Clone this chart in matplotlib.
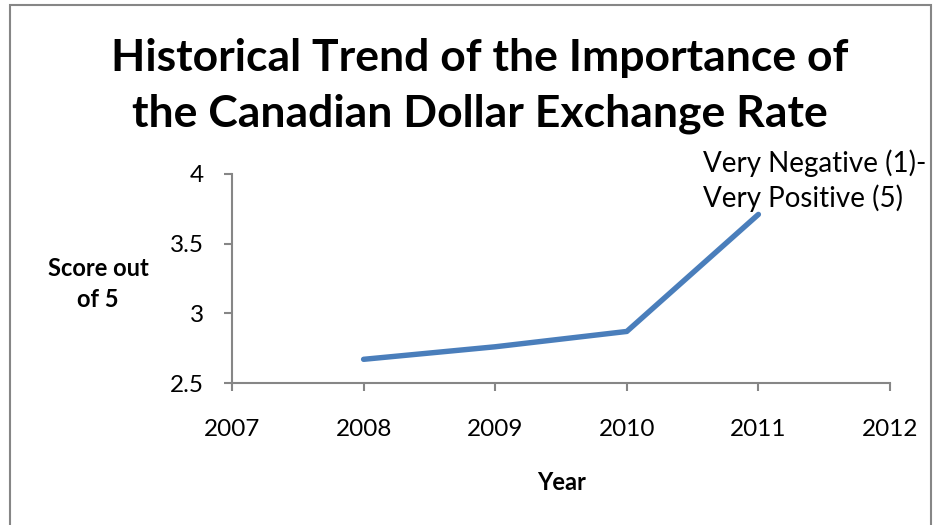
import matplotlib
matplotlib.use("Agg")
import matplotlib.pyplot as plt
from matplotlib.patches import Rectangle

years = [2008, 2009, 2010, 2011]
scores = [2.67, 2.76, 2.87, 3.71]
x_ticks = [2007, 2008, 2009, 2010, 2011, 2012]
y_ticks = [2.5, 3, 3.5, 4]
y_tick_labels = ["2.5", "3", "3.5", "4"]

title = "Historical Trend of the Importance of\nthe Canadian Dollar Exchange Rate"
series_label = "Very Negative (1)-\nVery Positive (5)"

plt.rcParams["font.family"] = ["Lato", "DejaVu Sans"]

W, H = 935, 525
fig = plt.figure(figsize=(W / 100, H / 100), dpi=100)
fig.patch.set_facecolor("white")

# outer chart-area border
fig.add_artist(Rectangle((10 / W, -0.02), 921 / W, 1.02 - 5 / H,
                         transform=fig.transFigure, fill=False,
                         edgecolor="#868686", linewidth=1.5))

ax = fig.add_axes([232 / W, 1 - 383 / H, (890 - 232) / W, (383 - 174) / H])
ax.plot(years, scores, color="#4a7ebb", linewidth=3.9, solid_capstyle="round",
        solid_joinstyle="round")

ax.set_xlim(2007, 2012)
ax.set_ylim(2.5, 4)
ax.set_xticks(x_ticks)
ax.set_xticklabels([str(v) for v in x_ticks])
ax.set_yticks(y_ticks)
ax.set_yticklabels(y_tick_labels)

for side in ("top", "right"):
    ax.spines[side].set_visible(False)
for side in ("left", "bottom"):
    ax.spines[side].set_color("#868686")
    ax.spines[side].set_linewidth(1.5)

ax.tick_params(axis="both", colors="#868686", labelcolor="black",
               labelsize=17.5, width=1.5, length=6)
ax.tick_params(axis="x", direction="out", pad=20)
ax.tick_params(axis="y", direction="out", pad=14)

# series label above the last point
ax.annotate(series_label, xy=(years[-1], scores[-1]), xytext=(-40, 2),
            textcoords="offset points", fontsize=20, color="black",
            ha="left", va="bottom", linespacing=1.3)

fig.text(480 / W, 1 - 86 / H, title, ha="center", va="center",
         fontsize=32, fontweight="bold", linespacing=1.45)

fig.text(98 / W, 1 - 284 / H, "Score out\nof 5", ha="center", va="center",
         fontsize=17, fontweight="bold", linespacing=1.45)
fig.text(562 / W, 1 - 482 / H, "Year", ha="center", va="center",
         fontsize=17, fontweight="bold")

fig.savefig("out.png", dpi=100, facecolor="white")
